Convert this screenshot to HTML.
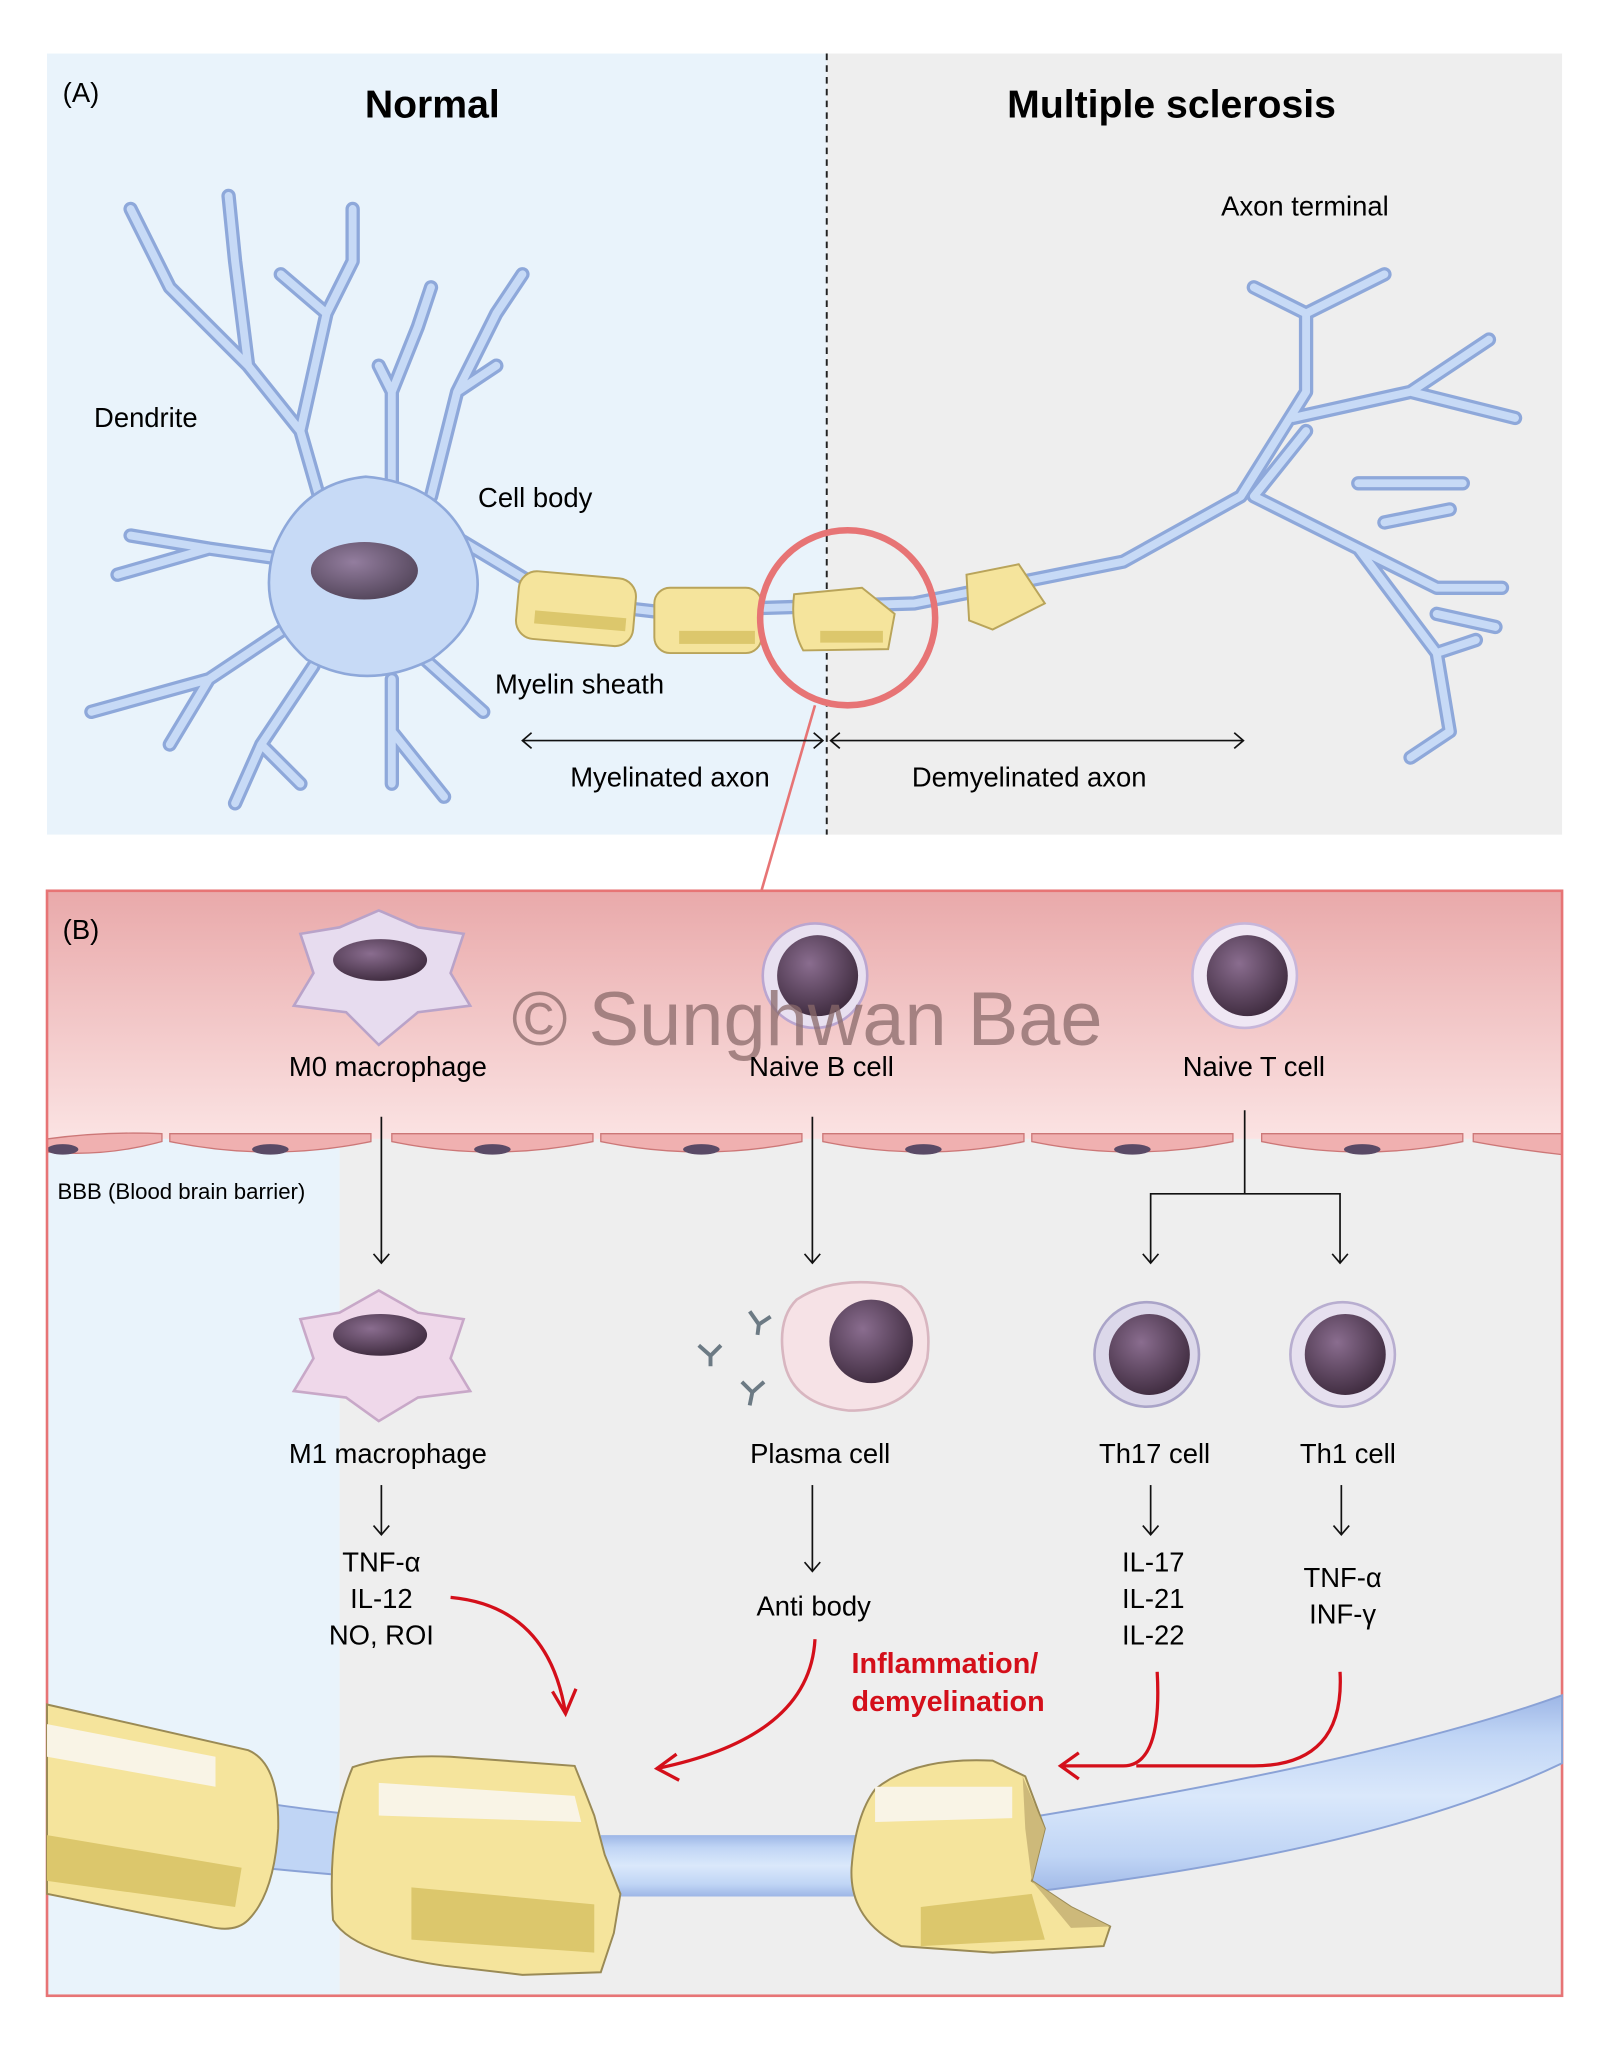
<!DOCTYPE html>
<html><head><meta charset="utf-8"><style>html,body{margin:0;padding:0;background:#fff}svg{display:block}text{font-family:"Liberation Sans",sans-serif}</style></head>
<body>
<svg width="1613" height="2048" viewBox="0 0 1235 1568" preserveAspectRatio="none" xmlns="http://www.w3.org/2000/svg">
<defs>
<linearGradient id="pk" x1="0" y1="0" x2="0" y2="1"><stop offset="0" stop-color="#e9a9aa"/><stop offset="1" stop-color="#fbe3e3"/></linearGradient>
<linearGradient id="ax" x1="0" y1="0" x2="0" y2="1"><stop offset="0" stop-color="#9db6e6"/><stop offset=".2" stop-color="#c0d5f5"/><stop offset=".5" stop-color="#dae8fb"/><stop offset=".8" stop-color="#c0d5f5"/><stop offset="1" stop-color="#9db6e6"/></linearGradient>
<radialGradient id="nuc" cx=".4" cy=".35" r=".7"><stop offset="0" stop-color="#8a6d8f"/><stop offset="1" stop-color="#3d2a3d"/></radialGradient>
</defs>
<rect x="36" y="41" width="597" height="598" fill="#e9f3fb"/>
<rect x="633" y="41" width="563" height="598" fill="#eeeeee"/>
<line x1="633" y1="41" x2="633" y2="639" stroke="#222" stroke-width="1.5" stroke-dasharray="5,4"/>
<text x="48" y="78" font-size="21">(A)</text>
<text x="331" y="90" font-size="30" font-weight="bold" text-anchor="middle">Normal</text>
<text x="897" y="90" font-size="30" font-weight="bold" text-anchor="middle">Multiple sclerosis</text>
<g fill="none" stroke-linecap="round" stroke-linejoin="round">
<g stroke="#8ea8da" stroke-width="11">
<path id="dd" d="M250 400 L230 330 L190 280 L130 220 L100 160 M190 280 L180 200 L175 150 M230 330 L250 240 L270 200 L270 160 M250 240 L215 210 M300 380 L300 300 L320 250 L330 220 M300 300 L290 280 M330 380 L350 300 L380 240 L400 210 M350 300 L380 280 M230 430 L160 420 L90 440 M160 420 L100 410 M220 480 L160 520 L70 545 M160 520 L130 570 M240 510 L200 570 L180 615 M200 570 L230 600 M300 520 L300 600 M300 560 L340 610 M320 500 L370 545 M330 400 L430 460 L500 468 L700 462 L860 430 L950 380 L1000 300 L1000 240 L960 220 M1000 240 L1060 210 M990 320 L1080 300 L1160 320 M1080 300 L1140 260 M1000 330 L960 380 L1040 420 L1100 450 L1150 450 M1040 420 L1100 500 L1110 560 L1080 580 M1100 500 L1130 490 M1040 370 L1120 370 M1060 400 L1110 390 M1100 470 L1145 480"/>
</g>
<use href="#dd" stroke="#c7daf6" stroke-width="6"/>
</g>
<path d="M210 420 Q230 370 280 365 Q340 370 360 420 Q380 470 330 505 Q280 530 235 505 Q195 470 210 420Z" fill="#c7daf6" stroke="#8ea8da" stroke-width="2"/>
<ellipse cx="279" cy="437" rx="41" ry="22" fill="url(#nuc)" opacity=".85"/>
<g stroke="#b9a45a" stroke-width="1.5">
<rect x="396" y="440" width="90" height="52" rx="14" fill="#f5e49c" transform="rotate(5 441 466)"/>
<rect x="501" y="450" width="82" height="50" rx="12" fill="#f5e49c"/>
<path d="M608 455 L660 450 L685 470 L680 497 L615 498 Q605 480 608 455Z" fill="#f5e49c"/>
<path d="M740 440 L780 432 L800 462 L760 482 L742 475Z" fill="#f5e49c"/>
</g>
<rect x="410" y="470" width="70" height="10" fill="#dcc76c" transform="rotate(5 441 466)"/>
<rect x="520" y="483" width="58" height="10" fill="#dcc76c"/>
<rect x="628" y="483" width="48" height="9" fill="#dcc76c"/>
<circle cx="649" cy="473" r="67" fill="none" stroke="#e77475" stroke-width="5"/>
<line x1="624" y1="540" x2="583" y2="682" stroke="#e77475" stroke-width="2"/>
<text x="72" y="327" font-size="21">Dendrite</text>
<text x="366" y="388" font-size="21">Cell body</text>
<text x="379" y="531" font-size="21">Myelin sheath</text>
<text x="935" y="165" font-size="21">Axon terminal</text>
<g stroke="#111" stroke-width="1.3" fill="none">
<line x1="400" y1="567" x2="630" y2="567"/><path d="M407 561 L400 567 L407 573 M623 561 L630 567 L623 573"/>
<line x1="636" y1="567" x2="952" y2="567"/><path d="M643 561 L636 567 L643 573 M945 561 L952 567 L945 573"/>
</g>
<text x="513" y="602" font-size="21" text-anchor="middle">Myelinated axon</text>
<text x="788" y="602" font-size="21" text-anchor="middle">Demyelinated axon</text>
<rect x="36" y="682" width="1160" height="190" fill="url(#pk)"/>
<rect x="36" y="872" width="224" height="656" fill="#e9f3fb"/>
<rect x="260" y="872" width="936" height="656" fill="#eeeeee"/>
<g fill="#f0b0b0" stroke="#c77" stroke-width="1">
<path d="M36 872 Q80 866 124 868 L124 874 Q80 886 36 882Z"/>
<path d="M130 868 L284 868 L284 874 Q207 890 130 874Z"/><path d="M300 868 L454 868 L454 874 Q377 890 300 874Z"/>
<path d="M460 868 L614 868 L614 874 Q537 890 460 874Z"/><path d="M630 868 L784 868 L784 874 Q707 890 630 874Z"/>
<path d="M790 868 L944 868 L944 874 Q867 890 790 874Z"/><path d="M966 868 L1120 868 L1120 874 Q1043 890 966 874Z"/>
<path d="M1128 868 L1196 868 L1196 884 Q1160 880 1128 874Z"/>
</g>
<g fill="#5a4a66"><ellipse cx="48" cy="880" rx="12" ry="4"/><ellipse cx="207" cy="880" rx="14" ry="4"/><ellipse cx="377" cy="880" rx="14" ry="4"/><ellipse cx="537" cy="880" rx="14" ry="4"/><ellipse cx="707" cy="880" rx="14" ry="4"/><ellipse cx="867" cy="880" rx="14" ry="4"/><ellipse cx="1043" cy="880" rx="14" ry="4"/></g>
<rect x="36" y="682" width="1160" height="846" fill="none" stroke="#e77475" stroke-width="2"/>
<text x="48" y="719" font-size="21">(B)</text>
<path d="M230 715 L260 710 L290 697 L320 710 L355 715 L345 745 L360 770 L320 775 L290 800 L265 775 L225 770 L240 745Z" fill="#e7dcef" stroke="#b9a3c9" stroke-width="2"/>
<ellipse cx="291" cy="735" rx="36" ry="16" fill="url(#nuc)"/>
<path d="M230 1010 L260 1005 L290 988 L320 1005 L355 1010 L345 1040 L360 1065 L320 1070 L290 1088 L265 1070 L225 1065 L240 1040Z" fill="#efd8ea" stroke="#c8a8c8" stroke-width="2"/>
<ellipse cx="291" cy="1022" rx="36" ry="16" fill="url(#nuc)"/>
<circle cx="624" cy="747" r="40" fill="#e8e0f0" stroke="#bba6d0" stroke-width="2"/><circle cx="626" cy="747" r="31" fill="url(#nuc)"/>
<circle cx="953" cy="747" r="40" fill="#efe7f4" stroke="#c7b6da" stroke-width="2"/><circle cx="955" cy="747" r="31" fill="url(#nuc)"/>
<path d="M610 995 Q640 975 690 985 Q715 1000 710 1040 Q700 1080 650 1080 Q605 1075 600 1040 Q595 1010 610 995Z" fill="#f6e2e6" stroke="#d8b6c0" stroke-width="2"/>
<circle cx="667" cy="1027" r="32" fill="url(#nuc)"/>
<circle cx="878" cy="1037" r="40" fill="#dcd8ea" stroke="#aaa4c8" stroke-width="2"/><circle cx="880" cy="1037" r="31" fill="url(#nuc)"/>
<circle cx="1028" cy="1037" r="40" fill="#e6e0ef" stroke="#b8aed0" stroke-width="2"/><circle cx="1030" cy="1037" r="31" fill="url(#nuc)"/>
<g stroke="#6c7a84" stroke-width="3" fill="none"><path d="M574 1004 L581 1014 L590 1008 M581 1014 L580 1022"/><path d="M535 1030 L544 1038 L552 1030 M544 1038 L544 1046"/><path d="M568 1058 L576 1066 L585 1058 M576 1066 L574 1076"/></g>
<text x="618" y="800" font-size="58" fill="#8a6a6a" fill-opacity=".75" text-anchor="middle">© Sunghwan Bae</text>
<g font-size="21" text-anchor="middle">
<text x="297" y="824">M0 macrophage</text><text x="629" y="824">Naive B cell</text><text x="960" y="824">Naive T cell</text>
<text x="297" y="1120">M1 macrophage</text><text x="628" y="1120">Plasma cell</text><text x="884" y="1120">Th17 cell</text><text x="1032" y="1120">Th1 cell</text>
<text x="292" y="1203">TNF-α</text><text x="292" y="1231">IL-12</text><text x="292" y="1259">NO, ROI</text>
<text x="623" y="1237">Anti body</text>
<text x="883" y="1203">IL-17</text><text x="883" y="1231">IL-21</text><text x="883" y="1259">IL-22</text>
<text x="1028" y="1215">TNF-α</text><text x="1028" y="1243">INF-γ</text>
</g>
<text x="44" y="918" font-size="17">BBB (Blood brain barrier)</text>
<g stroke="#111" stroke-width="1.3" fill="none">
<line x1="292" y1="855" x2="292" y2="967"/><path d="M286 960 L292 967 L298 960"/>
<line x1="622" y1="855" x2="622" y2="967"/><path d="M616 960 L622 967 L628 960"/>
<path d="M953 850 L953 914 M881 967 L881 914 L1026 914 L1026 967"/><path d="M875 960 L881 967 L887 960 M1020 960 L1026 967 L1032 960"/>
<line x1="292" y1="1137" x2="292" y2="1175"/><path d="M286 1168 L292 1175 L298 1168"/>
<line x1="622" y1="1137" x2="622" y2="1203"/><path d="M616 1196 L622 1203 L628 1196"/>
<line x1="881" y1="1137" x2="881" y2="1175"/><path d="M875 1168 L881 1175 L887 1168"/>
<line x1="1027" y1="1137" x2="1027" y2="1175"/><path d="M1021 1168 L1027 1175 L1033 1168"/>
</g>
<text x="652" y="1281" font-size="22" font-weight="bold" fill="#d40f1a">Inflammation/</text>
<text x="652" y="1310" font-size="22" font-weight="bold" fill="#d40f1a">demyelination</text>
<path d="M200 1380 Q260 1390 460 1408 L660 1408 L660 1450 L460 1450 Q300 1440 200 1430Z" fill="#c0d5f5" stroke="#8aa2d6" stroke-width="1.5"/>
<path d="M460 1405 L660 1405 L660 1452 L460 1452Z" fill="url(#ax)"/>
<path d="M760 1396 Q1050 1350 1196 1298 L1196 1350 Q1050 1420 760 1452Z" fill="url(#ax)" stroke="#8aa2d6" stroke-width="1.5"/>
<g stroke="#9a8a55" stroke-width="1.5" fill="#f5e49c">
<path d="M36 1305 L190 1340 Q214 1350 213 1400 Q210 1450 190 1470 Q180 1480 160 1475 L36 1450Z"/>
<path d="M270 1353 Q300 1343 345 1345 L440 1352 L448 1372 L455 1390 L463 1420 L475 1450 L470 1480 L460 1510 L400 1512 L340 1505 Q270 1495 255 1470 Q250 1400 270 1353Z"/>
<path d="M670 1370 Q700 1345 760 1348 L785 1360 L800 1400 L790 1440 L820 1460 L850 1475 L845 1490 L760 1495 L690 1490 Q650 1470 652 1430 Q655 1390 670 1370Z"/>
</g>
<path d="M783 1360 L800 1400 L790 1440 L820 1460 L850 1475 L820 1476 L790 1440 L785 1400Z" fill="#cdb97a"/>
<g fill="#f9f4e6"><path d="M36 1320 L165 1345 L165 1368 L36 1345Z"/><path d="M290 1365 L440 1375 L445 1395 L290 1390Z"/><path d="M670 1368 L775 1368 L775 1392 L670 1395Z"/></g>
<g fill="#dcc76c"><path d="M36 1405 L185 1430 L180 1460 L36 1440Z"/><path d="M315 1445 L455 1458 L455 1495 L315 1485Z"/><path d="M705 1460 L790 1450 L800 1485 L705 1490Z"/></g>
<g stroke="#d40f1a" stroke-width="2.5" fill="none">
<path d="M345 1223 Q420 1230 433 1312"/><path d="M423 1295 L433 1312 L441 1293"/>
<path d="M624 1255 Q620 1330 503 1354"/><path d="M518 1343 L503 1354 L520 1363"/>
<path d="M886 1280 Q890 1352 860 1352 L812 1352"/><path d="M826 1342 L812 1352 L826 1362"/>
<path d="M1026 1280 Q1030 1352 960 1352 L870 1352"/>
</g>
</svg>
</body></html>
